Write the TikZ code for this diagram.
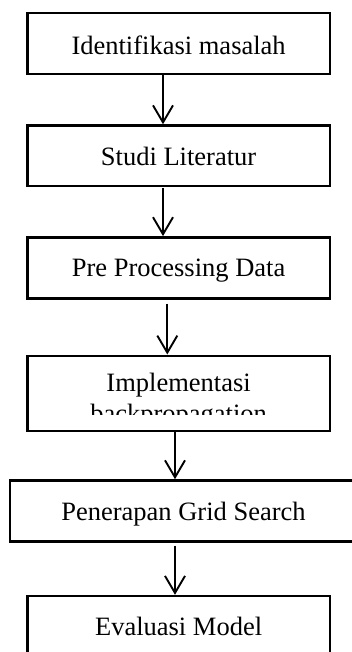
\documentclass[tikz,border=0pt]{standalone}
\usepackage{fontspec}
\setmainfont{Liberation Serif}
\usetikzlibrary{arrows.meta}
\begin{document}
\begin{tikzpicture}[x=1pt,y=-1pt,
  box/.style={draw=black,line width=2.4pt,rectangle,inner sep=0pt},
  lbl/.style={anchor=base,inner sep=0pt,font=\fontsize{26.5}{30.5}\selectfont},
  arr/.style={draw=black,line width=1.9pt,-{Straight Barb[length=17pt,width=20pt,line width=1.9pt]}}]
\useasboundingbox (0,0) rectangle (351,652);
% boxes
\node[box,minimum width=302.7pt,minimum height=60.7pt] (b1) at (178.65,43.65) {};
\node[box,minimum width=302.7pt,minimum height=60.7pt] (b2) at (178.65,155.8) {};
\node[box,minimum width=302.7pt,minimum height=61pt] (b3) at (178.65,267.8) {};
\node[box,minimum width=302.7pt,minimum height=75pt] (b4) at (178.65,393.2) {};
\node[box,minimum width=347pt,minimum height=61pt] (b5) at (183.5,510.9) {};
\node[box,minimum width=302.7pt,minimum height=70pt] (b6) at (178.65,631) {};
% labels
\node[lbl] (t1) at (178.6,54.3) {Identifikasi masalah};
\node[lbl] (t2) at (178.6,165.7) {Studi Literatur};
\node[lbl] (t3) at (178.6,276.7) {Pre Processing Data};
\begin{scope}
\clip (28,357) rectangle (329,414.5);
\node[lbl] (t4a) at (178.6,391.7) {Implementasi};
\node[lbl] (t4b) at (178.6,422.2) {backpropagation};
\end{scope}
\node[lbl] (t5) at (183.5,520.7) {Penerapan Grid Search};
\node[lbl] (t6) at (178.6,635) {Evaluasi Model};
% connectors
\draw[arr] (b1.south -| 163,0) -- (b2.north -| 163,0);
\draw[arr,shorten <=0.5pt] (b2.south -| 163,0) -- (b3.north -| 163,0);
\draw[arr,shorten <=4pt] (b3.south -| 167.3,0) -- (b4.north -| 167.3,0);
\draw[arr] (b4.south -| 175,0) -- (b5.north -| 175,0);
\draw[arr,shorten <=3pt] (b5.south -| 175,0) -- (b6.north -| 175,0);
\end{tikzpicture}
\end{document}
